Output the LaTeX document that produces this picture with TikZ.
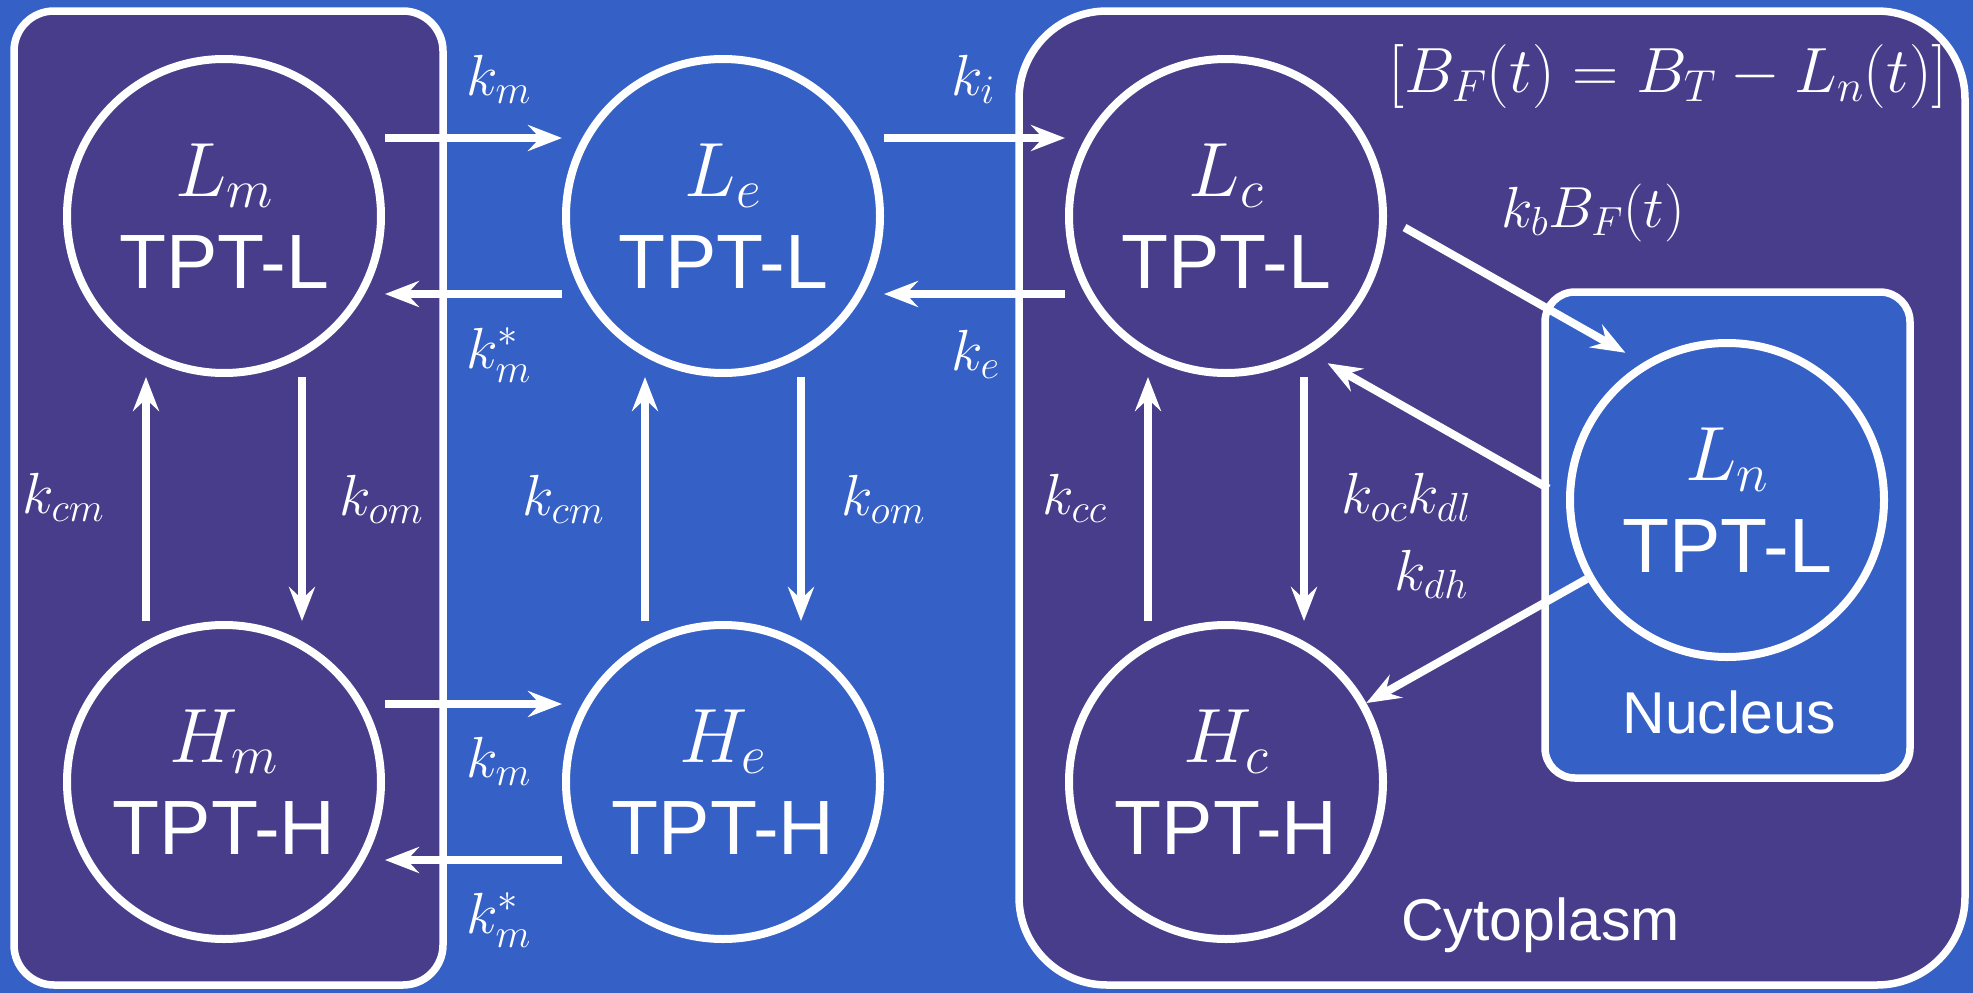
\RequirePackage{fix-cm}
\documentclass[tikz,border=0pt]{standalone}
\usepackage{fontspec}
\newfontfamily\hv{Liberation Sans}
\usetikzlibrary{arrows.meta,calc}
\definecolor{bgblue}{RGB}{53,96,197}
\definecolor{cellpurple}{RGB}{72,61,139}
\newcommand\parlink[2]{\draw[arr] ($(#1)!161pt!(#2)!78pt!90:(#2)$) -- ($(#2)!161pt!(#1)!78pt!-90:(#1)$);}
\begin{document}
\begin{tikzpicture}[x=1pt,y=-1pt,
  every node/.style={text=white},
  state/.style={circle,draw=white,line width=8pt,minimum size=314pt,inner sep=0pt,align=center,font=\fontsize{77}{92}\selectfont},
  arr/.style={draw=white,line width=8pt,-{Stealth[length=34pt,width=26pt,inset=12pt]}},
  rate/.style={font=\fontsize{58}{70}\selectfont,inner sep=0pt},
  region/.style={draw=white,line width=7.5pt},
  caption/.style={font=\hv\fontsize{59}{70}\selectfont,inner sep=0pt}
]
\fill[bgblue] (0,0) rectangle (1973,993);
\useasboundingbox (0,0) rectangle (1973,993);
% compartments
\draw[region, fill=cellpurple, rounded corners=40pt] (14,11) rectangle (443,985);
\draw[region, fill=cellpurple, rounded corners=88pt] (1019,11) rectangle (1965,985);
\draw[region, fill=bgblue, rounded corners=30pt] (1545,292) rectangle (1910,778);
% states
\node[state] (Lm) at (224,216) {$L_m$\\\hv TPT-L};
\node[state] (Le) at (723,216) {$L_e$\\\hv TPT-L};
\node[state] (Lc) at (1226,216) {$L_c$\\\hv TPT-L};
\node[state] (Hm) at (224,782) {$H_m$\\\hv TPT-H};
\node[state] (He) at (723,782) {$H_e$\\\hv TPT-H};
\node[state] (Hc) at (1226,782) {$H_c$\\\hv TPT-H};
\node[state] (Ln) at (1727,500) {$L_n$\\\hv TPT-L};
% transitions
\parlink{Lm}{Le}
\parlink{Le}{Lm}
\parlink{Le}{Lc}
\parlink{Lc}{Le}
\parlink{Hm}{He}
\parlink{He}{Hm}
\parlink{Hm}{Lm}
\parlink{Lm}{Hm}
\parlink{He}{Le}
\parlink{Le}{He}
\parlink{Hc}{Lc}
\parlink{Lc}{Hc}
\parlink{Lc}{Ln}
\parlink{Ln}{Lc}
\draw[arr] (Ln) -- (Hc);
% rate labels
\node[rate, anchor=base west] (lkm1) at (466,95) {$k_m$};
\node[rate, anchor=base west] (lkms1) at (466,368) {$k_m^*$};
\node[rate, anchor=base west] (lki) at (951,95) {$k_i$};
\node[rate, anchor=base west] (lke) at (951,370) {$k_e$};
\node[rate, anchor=base west] (lkm2) at (466,777) {$k_m$};
\node[rate, anchor=base west] (lkms2) at (466,933) {$k_m^*$};
\node[rate, anchor=base west] (lkcm1) at (22,513) {$k_{cm}$};
\node[rate, anchor=base west] (lkom1) at (339,515) {$k_{om}$};
\node[rate, anchor=base west] (lkcm2) at (522,515) {$k_{cm}$};
\node[rate, anchor=base west] (lkom2) at (841,515) {$k_{om}$};
\node[rate, anchor=base west] (lkcc) at (1042,514) {$k_{cc}$};
\node[rate, anchor=base east] (lkoc) at (1471,513) {$k_{oc}k_{dl}$};
\node[rate, anchor=base east] (lkdh) at (1468,590) {$k_{dh}$};
\node[rate, anchor=base west] (lkb) at (1501,227) {$k_bB_F(t)$};
\node[font=\fontsize{64}{76}\selectfont, inner sep=0pt, anchor=base west] (bf) at (1388,92) {$[B_F(t)=B_T-L_n(t)]$};
% compartment names
\node[caption, anchor=base] (nuc) at (1729,733) {Nucleus};
\node[caption, anchor=base west] (cyt) at (1401,940) {Cytoplasm};
\end{tikzpicture}
\end{document}
